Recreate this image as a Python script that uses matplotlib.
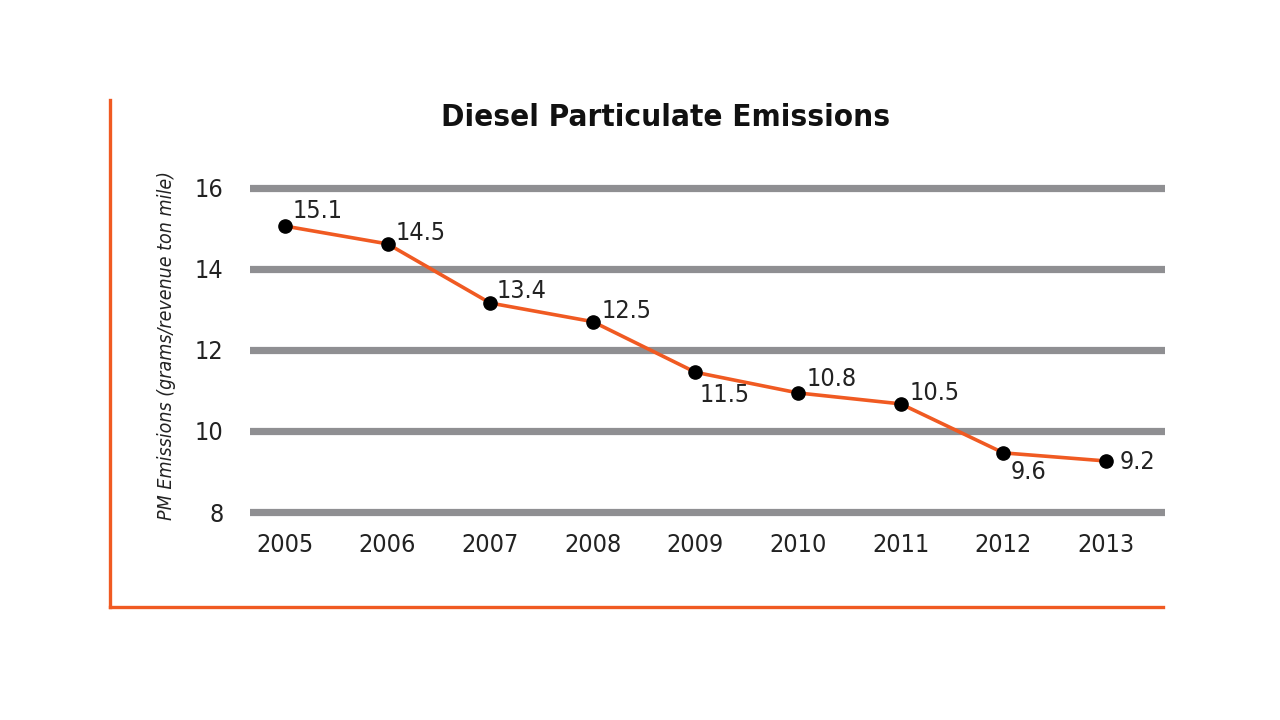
import matplotlib.pyplot as plt
from matplotlib.lines import Line2D

years = [2005, 2006, 2007, 2008, 2009, 2010, 2011, 2012, 2013]
# where the points sit on the chart
pm_plotted = [15.06, 14.62, 13.16, 12.70, 11.45, 10.94, 10.67, 9.46, 9.26]
# printed labels
pm_labels = ["15.1", "14.5", "13.4", "12.5", "11.5", "10.8", "10.5", "9.6", "9.2"]
# label offsets in pixels (dx, dy-up)
label_offsets = [(8, 15), (8, 11), (6, 12), (9, 11), (4, -23), (8, 14), (9, 11), (7, -19), (14, -1)]
yticks = [8, 10, 12, 14, 16]

orange = "#F05A22"
grid_gray = "#8F8F92"
txt = "#222222"
fnt = dict(family="DejaVu Sans", stretch="condensed")

fig = plt.figure(figsize=(12.8, 7.2), dpi=100)
ax = fig.add_axes([250 / 1280, 1 - 520.1 / 720, 915 / 1280, 0.4725])

for v in yticks:
    ax.axhline(v, color=grid_gray, lw=5.2, zorder=1)

ax.plot(years, pm_plotted, color=orange, lw=2.6, zorder=2)
ax.plot(years, pm_plotted, "o", color="black", ms=9.5, zorder=3)

for x, y, s, (dx, dy) in zip(years, pm_plotted, pm_labels, label_offsets):
    ax.annotate(s, (x, y), xytext=(dx * 0.72, dy * 0.72), textcoords="offset points",
                ha="left", va="center", fontsize=18, color=txt, **fnt)

ax.set_xlim(2004.66, 2013.575)
ax.set_ylim(7.8, 16.2)
ax.set_yticks(yticks)
ax.set_xticks(years)
ax.tick_params(length=0, labelcolor=txt)
ax.tick_params(axis="y", pad=19)
ax.tick_params(axis="x", pad=9)
for lab in ax.get_xticklabels() + ax.get_yticklabels():
    lab.set_fontstretch("condensed")
    lab.set_fontsize(18)
for sp in ax.spines.values():
    sp.set_visible(False)

fig.text(167 / 1280, 1 - 345 / 720, "PM Emissions (grams/revenue ton mile)", rotation=90,
         ha="center", va="center", fontsize=14, style="italic", color=txt, **fnt)
fig.text(666 / 1280, 1 - 118 / 720, "Diesel Particulate Emissions", ha="center", va="center",
         fontsize=22.5, fontweight="bold", color="#111111", **fnt)

# orange L-shaped frame
fig.add_artist(Line2D([110 / 1280, 110 / 1280], [1 - 100 / 720, 1 - 607 / 720],
                      color=orange, lw=2.4, transform=fig.transFigure))
fig.add_artist(Line2D([110 / 1280, 1163 / 1280], [1 - 607 / 720, 1 - 607 / 720],
                      color=orange, lw=2.4, transform=fig.transFigure))

fig.savefig("out.png", dpi=100, facecolor="white")
